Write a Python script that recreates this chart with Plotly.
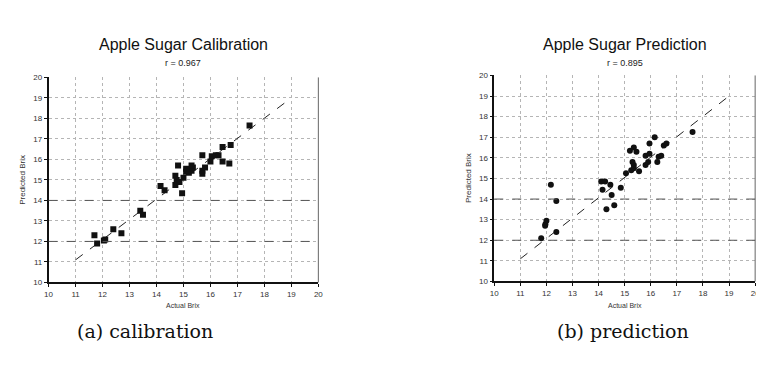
import plotly.graph_objects as go

# ---- data ----
cal_actual = [11.7, 11.8, 12.05, 12.1, 12.4, 12.7, 13.4, 13.5, 14.15, 14.3,
              14.7, 14.7, 14.8, 14.75, 14.85, 14.95, 15.0, 15.1, 15.2, 15.3,
              15.35, 15.3, 15.1, 15.7, 15.7, 15.8, 15.7, 16.0, 16.05, 16.2,
              16.3, 16.45, 16.45, 16.7, 16.75, 17.45]
cal_pred = [12.3, 11.9, 12.05, 12.1, 12.6, 12.4, 13.5, 13.3, 14.7, 14.5,
            15.2, 14.75, 15.7, 15.0, 14.9, 14.35, 15.1, 15.4, 15.35, 15.45,
            15.6, 15.7, 15.55, 15.45, 15.3, 15.6, 16.2, 15.9, 16.15, 16.2,
            16.2, 16.6, 15.9, 15.8, 16.7, 17.65]

pre_actual = [11.8, 11.96, 12.0, 11.95, 12.17, 12.38, 12.38, 14.1, 14.25, 14.15,
              14.3, 14.45, 14.5, 14.6, 14.85, 15.05, 15.2, 15.35, 15.45, 15.3,
              15.35, 15.25, 15.35, 15.55, 15.8, 15.9, 15.8, 15.95, 15.95, 16.15,
              16.3, 16.4, 16.25, 16.5, 16.6, 17.6]
pre_pred = [12.1, 12.78, 12.95, 12.7, 14.7, 13.9, 12.4, 14.85, 14.85, 14.45,
            13.5, 14.7, 14.2, 13.7, 14.55, 15.25, 16.35, 16.5, 16.3, 15.8,
            15.65, 15.4, 15.5, 15.35, 15.65, 15.8, 16.1, 16.2, 16.7, 17.0,
            16.05, 16.1, 15.8, 16.6, 16.7, 17.25]

fit_x = [11, 19]
fit_y = [11.1, 19.0]

tick_vals = list(range(10, 21))
emphasis_y = [12, 14]

titles = ["Apple Sugar Calibration", "Apple Sugar Prediction"]
subtitles = ["r = 0.967", "r = 0.895"]
captions = ["(a) calibration", "(b) prediction"]

# ---- layout geometry ----
W, H = 764, 380
panels = [
    dict(x0=37, x1=310, y0=67, y1=277),
    dict(x0=488, x1=752, y0=65, y1=276),
]

fig = go.Figure()
series = [(cal_actual, cal_pred), (pre_actual, pre_pred)]

for i, (p, (xs, ys)) in enumerate(zip(panels, series)):
    xa = "x" if i == 0 else "x2"
    ya = "y" if i == 0 else "y2"
    fig.add_trace(go.Scatter(x=fit_x, y=fit_y, mode="lines", xaxis=xa, yaxis=ya,
                             line=dict(color="#222", width=1, dash="dash"),
                             showlegend=False, hoverinfo="skip"))
    fig.add_trace(go.Scatter(x=xs, y=ys, mode="markers", xaxis=xa, yaxis=ya,
                             marker=dict(color="#111", size=6,
                                         symbol="square" if i == 0 else "circle"),
                             showlegend=False))
    axis_common = dict(range=[10, 20], tickvals=tick_vals, showgrid=True,
                       gridcolor="#b5b5b5", griddash="dot", gridwidth=1,
                       zeroline=False, showline=True, linecolor="#111", linewidth=1.5,
                       ticks="outside", ticklen=3, tickcolor="#111",
                       tickfont=dict(family="Liberation Sans", size=8, color="#333"))
    xk = "xaxis" if i == 0 else "xaxis2"
    yk = "yaxis" if i == 0 else "yaxis2"
    fig.update_layout(**{
        xk: dict(axis_common, domain=[p["x0"] / W, p["x1"] / W], anchor=ya),
        yk: dict(axis_common, domain=[(H - p["y1"]) / H, (H - p["y0"]) / H], anchor=xa),
    })
    # right border
    fig.add_shape(type="line", xref=f"{xa} domain", yref=f"{ya} domain",
                  x0=1, x1=1, y0=0, y1=1, line=dict(color="#666", width=1))
    for ey in emphasis_y:
        fig.add_shape(type="line", xref=f"{xa} domain", yref=ya,
                      x0=0, x1=1, y0=ey, y1=ey,
                      line=dict(color="#555", width=1, dash="dash"))
    cx = (p["x0"] + p["x1"]) / 2 / W
    fig.add_annotation(text=titles[i], xref="paper", yref="paper", xanchor="center",
                       x=cx, y=(H - 23) / H, showarrow=False,
                       font=dict(family="Liberation Sans", size=16, color="#111"))
    fig.add_annotation(text=subtitles[i], xref="paper", yref="paper", xanchor="center",
                       x=cx, y=(H - 45) / H, showarrow=False,
                       font=dict(family="Liberation Sans", size=9, color="#222"))
    fig.add_annotation(text="Actual Brix", xref="paper", yref="paper", xanchor="center",
                       x=cx, y=(H - 306) / H, showarrow=False,
                       font=dict(family="Liberation Sans", size=7, color="#333"))
    fig.add_annotation(text="Predicted Brix", xref="paper", yref="paper", xanchor="center",
                       x=(p["x0"] - 26) / W, y=(H - (p["y0"] + p["y1"]) / 2) / H,
                       textangle=-90, showarrow=False,
                       font=dict(family="Liberation Sans", size=8, color="#333"))

caption_x = [135, 618]
for txt, cx in zip(captions, caption_x):
    fig.add_annotation(text=txt, xref="paper", yref="paper", xanchor="center",
                       x=cx / W, y=(H - 340) / H, showarrow=False,
                       font=dict(family="DejaVu Serif", size=19, color="#111"))

fig.update_layout(width=W, height=H, margin=dict(l=0, r=0, t=0, b=0),
                  paper_bgcolor="white", plot_bgcolor="white", showlegend=False)

fig.write_html("out.html")
